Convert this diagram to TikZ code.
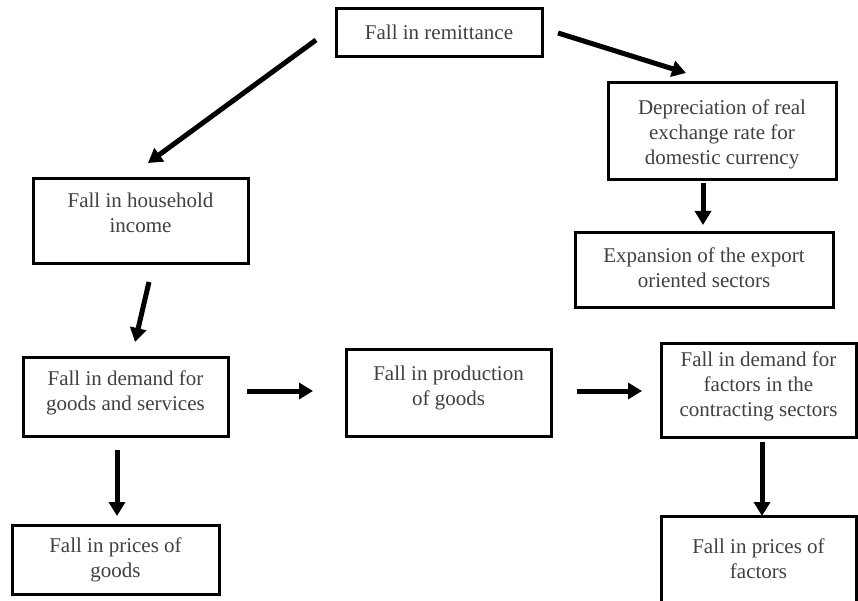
\documentclass[tikz,border=0pt]{standalone}
\usepackage{fontspec}
\setmainfont{Liberation Serif}
\usetikzlibrary{arrows.meta}
\definecolor{txtgray}{HTML}{404040}
\begin{document}
\begin{tikzpicture}[x=1pt,y=-1pt,
  bx/.style={draw=black,line width=3pt,inner sep=0pt,outer sep=0pt,anchor=north west,fill=none},
  txt/.style={text=txtgray,inner sep=0pt,outer sep=0pt,anchor=north,align=center,font=\fontsize{21}{25}\selectfont},
  arr/.style={line width=5pt,-{Triangle[length=14pt,width=16pt]}}]
\useasboundingbox (0,0) rectangle (858,601);
\clip (0,0) rectangle (858,601);
% boxes
\node[bx,minimum width=206pt,minimum height=48pt] (rem) at (336,9) {};
\node[bx,minimum width=228pt,minimum height=97pt] (dep) at (608,83) {};
\node[bx,minimum width=258pt,minimum height=74pt] (exp) at (575,233) {};
\node[bx,minimum width=215pt,minimum height=85pt] (hh) at (33,179) {};
\node[bx,minimum width=205pt,minimum height=79pt] (dem) at (23,357) {};
\node[bx,minimum width=205pt,minimum height=87pt] (prod) at (346,349) {};
\node[bx,minimum width=195pt,minimum height=94pt] (con) at (661,343) {};
\node[bx,minimum width=207pt,minimum height=69pt] (pg) at (12,525) {};
\node[bx,minimum width=195pt,minimum height=130pt] (pf) at (661,516) {};
% texts
\node[txt] (remt) at ([yshift=-16pt]rem.north) {Fall in remittance};
\node[txt] (dept) at ([yshift=-17pt]dep.north) {Depreciation of real\\exchange rate for\\domestic currency};
\node[txt] (expt) at ([yshift=-15pt]exp.north) {Expansion of the export\\oriented sectors};
\node[txt] (hht) at ([yshift=-14pt]hh.north) {Fall in household\\income};
\node[txt] (demt) at ([yshift=-14pt]dem.north) {Fall in demand for\\goods and services};
\node[txt] (prodt) at ([yshift=-17pt]prod.north) {Fall in production\\of goods};
\node[txt] (cont) at ([yshift=-9pt]con.north) {Fall in demand for\\factors in the\\contracting sectors};
\node[txt] (pgt) at ([yshift=-13pt]pg.north) {Fall in prices of\\goods};
\node[txt] (pft) at ([yshift=-23pt]pf.north) {Fall in prices of\\factors};
% arrows
\draw[arr] ([xshift=-20pt,yshift=-7pt]rem.west) -- ([xshift=7.5pt,yshift=16pt]hh.north);
\draw[arr] ([xshift=16pt]rem.east) -- ([xshift=-36pt,yshift=10pt]dep.north);
\draw[arr] ([xshift=-19pt,yshift=-3pt]dep.south) -- ([xshift=-1pt,yshift=8pt]exp.north);
\draw[arr] ([xshift=8.5pt,yshift=-18pt]hh.south) -- ([xshift=9.5pt,yshift=15pt]dem.north);
\draw[arr] ([xshift=19pt,yshift=5.5pt]dem.east) -- ([xshift=-33pt,yshift=1.5pt]prod.west);
\draw[arr] ([xshift=26pt,yshift=1.5pt]prod.east) -- ([xshift=-19pt,yshift=-1pt]con.west);
\draw[arr] ([xshift=-8.5pt,yshift=-14pt]dem.south) -- ([xshift=1.5pt,yshift=9pt]pg.north);
\draw[arr] ([xshift=3.5pt,yshift=-5pt]con.south) -- ([xshift=3.5pt]pf.north);
\end{tikzpicture}
\end{document}
